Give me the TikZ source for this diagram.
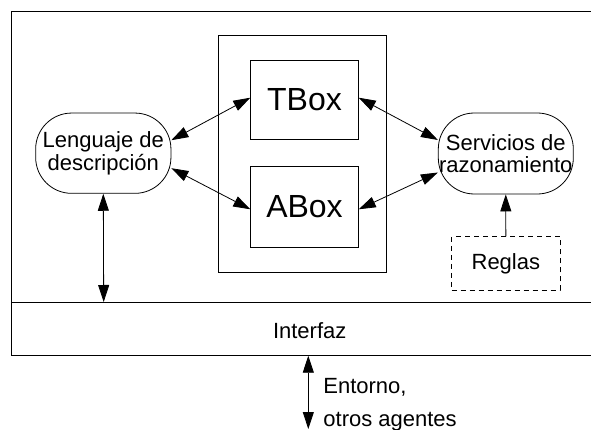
\documentclass[tikz,border=0pt]{standalone}
\usepackage{fontspec}
\setmainfont{Liberation Sans}
\usetikzlibrary{arrows.meta}
\begin{document}
\begin{tikzpicture}[x=1pt,y=-1pt,
  line width=0.8pt,
  >={Triangle[length=17pt,width=11pt]},
  txt/.style={font=\fontsize{22}{22.6}\selectfont},
  big/.style={font=\fontsize{32}{34}\selectfont},
  plainbox/.style={draw,rectangle,inner sep=0pt},
  roundbox/.style={draw,rectangle,rounded corners=36pt,inner sep=0pt,align=center,txt},
  conn/.style={<->}]
\useasboundingbox (0,0) rectangle (591,430);
% outer frame (right edge outside picture)
\draw (591,11) -- (11.7,11) -- (11.7,355.7) -- (591,355.7);
\draw (11.7,302) -- (591,302);
\node[txt] (interfaz) at (309.7,331) {Interfaz};
\coordinate (ifl) at (103.7,302);
\coordinate (ifb) at (308.3,355.7);
\coordinate (env) at (308.3,429);
% knowledge base
\node[plainbox,minimum width=168.7pt,minimum height=237pt] (kb) at (302.35,154.2) {};
\node[plainbox,big,minimum width=107.6pt,minimum height=79pt] (tbox) at (304.5,99.5) {TBox};
\node[plainbox,big,minimum width=107.6pt,minimum height=80.6pt] (abox) at (304.5,207) {ABox};
% side nodes
\node[roundbox,minimum width=135.3pt,minimum height=80.3pt] (lang) at (103.3,153.2) {Lenguaje de\\descripción};
\node[roundbox,minimum width=135pt,minimum height=81pt] (serv) at (505.8,153.5) {Servicios de\\razonamiento};
\node[plainbox,dashed,dash pattern=on 5pt off 4pt,txt,minimum width=108.3pt,minimum height=53.3pt] (reglas) at (505.85,263.35) {Reglas};
% connectors
\draw[conn] ([yshift=13pt]lang.east) -- ([yshift=1.8pt]tbox.west);
\draw[conn] ([yshift=-15pt]lang.east) -- ([yshift=-2.3pt]abox.west);
\draw[conn] ([yshift=1.8pt]tbox.east) -- ([yshift=13.5pt]serv.west);
\draw[conn] ([yshift=-2.3pt]abox.east) -- ([yshift=-19pt]serv.west);
\draw[->] (reglas.north) -- (serv.south);
\draw[conn] (lang.south) -- (ifl);
\draw[conn] (ifb) -- (env);
\node[txt,anchor=base west,inner sep=0pt] (ent1) at (323,393) {Entorno,};
\node[txt,anchor=base west,inner sep=0pt] (ent2) at (323,426) {otros agentes};
\end{tikzpicture}
\end{document}
